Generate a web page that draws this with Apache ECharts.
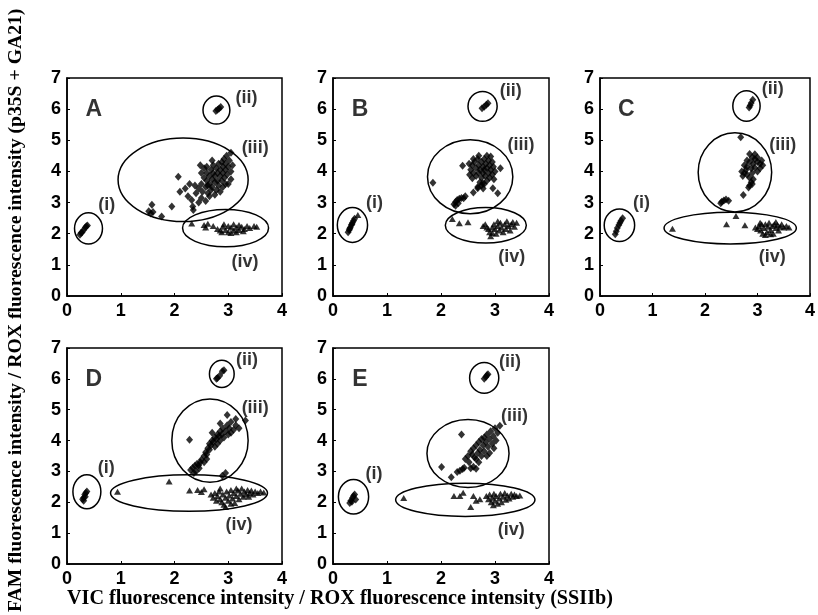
<!DOCTYPE html>
<html><head><meta charset="utf-8">
<script src="https://cdn.jsdelivr.net/npm/echarts@6/dist/echarts.min.js"></script>
<style>html,body{margin:0;padding:0;background:#fff}#c{width:818px;height:615px}</style>
</head><body><div id="c"></div>
<script>
var xTicks = [0, 1, 2, 3, 4];
var yTicks = [0, 1, 2, 3, 4, 5, 6, 7];
var panelNames = ['A', 'B', 'C', 'D', 'E'];
var clusterNames = ['(i)', '(ii)', '(iii)', '(iv)'];

// ---- Panel A ----
var A_i = [[0.24,1.97],[0.26,2.02],[0.28,2.05],[0.31,2.12],[0.34,2.2],[0.36,2.24],[0.38,2.26]];
var A_ii = [[2.77,5.94],[2.8,5.98],[2.83,6.02],[2.86,6.07]];
var A_iii = [[1.52,2.72],[1.56,2.65],[1.6,2.7],[1.58,2.93],[1.76,2.55],[1.95,2.87],[2.07,3.83],[2.1,3.35],[2.2,3.45],[2.25,3.2],[2.32,3.08],[2.34,2.87],[2.35,2.76],[2.28,3.6],[2.4,3.3],[2.38,3.55],[2.45,3.0],[2.5,3.15],
 [2.45,3.45],[2.5,3.6],[2.52,3.35],[2.55,3.8],[2.58,3.5],[2.6,3.7],[2.6,3.95],[2.62,3.3],[2.65,3.6],[2.65,3.85],[2.68,4.05],[2.7,3.5],[2.7,3.75],[2.72,3.95],[2.72,4.2],[2.75,3.65],[2.75,3.85],[2.78,4.1],[2.78,3.4],[2.8,3.7],[2.8,3.95],[2.82,4.25],[2.82,3.55],[2.85,3.85],[2.85,4.05],[2.88,4.3],[2.88,3.7],[2.9,3.95],[2.9,4.15],[2.92,4.4],[2.93,3.8],[2.95,4.05],[2.95,4.25],[2.97,4.5],[2.98,3.9],[3.0,4.15],[3.02,4.35],[3.05,4.6],[3.05,4.0],[2.6,4.15],[2.55,4.1],[2.5,3.95],[2.48,4.2],[2.7,4.35],[2.85,3.35],[2.9,3.5],[3.0,3.6],[3.05,3.75],[2.65,3.2],[2.58,3.05],[2.75,3.25],[3.08,4.2],[2.95,3.6],[2.68,3.4],[2.62,3.55]];
var A_iv = [[2.32,2.33],[2.55,2.28],[2.58,2.2],[2.62,2.32],[2.72,2.25],[2.8,2.15],[2.85,2.1],[2.9,2.22],[2.95,2.12],[3.0,2.25],[3.0,2.05],[3.05,2.2],[3.1,2.1],[3.1,2.3],[3.15,2.2],[3.2,2.12],[3.2,2.28],[3.25,2.22],[3.3,2.15],[3.35,2.25],[3.4,2.18],[3.48,2.25],[3.53,2.22],[2.88,2.05],[3.05,2.02],[2.92,2.3],[3.15,2.05],[3.28,2.08]];
var A_ellipses = [[0.40,2.17,0.26,0.50],[2.78,5.97,0.25,0.45],[2.16,3.73,1.21,1.34],[2.95,2.18,0.80,0.60]];
var A_labels = [[0.74,2.92],[3.34,6.35],[3.5,4.74],[3.31,1.1]];

// ---- Panel B ----
var B_i = [[0.28,2.05],[0.3,2.12],[0.32,2.2],[0.34,2.28],[0.36,2.35],[0.38,2.42],[0.4,2.48],[0.31,2.16],[0.35,2.3]];
var B_ii = [[2.76,6.03],[2.8,6.08],[2.84,6.14],[2.87,6.19]];
var B_iii = [[2.55,4.05],[2.58,4.2],[2.6,3.95],[2.62,4.3],[2.65,4.1],[2.65,3.85],[2.68,4.4],[2.7,4.2],[2.7,3.95],[2.72,4.05],[2.75,4.3],[2.75,3.8],[2.78,4.15],[2.78,3.95],[2.8,4.4],[2.8,4.05],[2.82,3.85],[2.83,4.25],[2.85,4.1],[2.85,3.7],[2.88,4.35],[2.88,3.95],[2.9,4.2],[2.9,3.8],[2.92,4.05],[2.95,4.3],[2.95,3.9],[2.97,4.15],[3.0,4.0],[2.98,3.75],[2.72,3.65],[2.75,3.55],[2.78,3.45],[2.8,3.6],[2.68,3.5],[2.85,4.5],[2.92,4.48],[2.6,4.4],[2.52,4.25],[2.58,3.78],[2.7,4.5],
 [1.85,3.64],[2.4,4.18],[2.53,3.89],[2.6,3.32],[3.1,4.1],[2.96,3.46],[3.05,3.3],[2.68,3.46],[2.77,3.62],
 [2.24,2.95],[2.27,3.02],[2.3,3.08],[2.34,3.12],[2.38,3.15],[2.42,3.14],[2.45,3.2],[2.27,2.9],[2.32,2.98]];
var B_iv = [[0.46,2.6],[2.21,2.47],[2.34,2.34],[2.5,2.37],[2.78,2.25],[2.82,2.3],[2.85,2.2],[2.88,2.15],[2.9,2.05],[2.92,1.92],[2.95,2.2],[2.98,2.3],[3.0,2.15],[3.02,2.0],[3.05,2.25],[3.08,2.1],[3.1,2.35],[3.12,2.2],[3.15,2.05],[3.18,2.3],[3.2,2.15],[3.22,2.4],[3.25,2.25],[3.28,2.1],[3.3,2.3],[3.33,2.38],[3.36,2.22],[3.4,2.35],[2.95,2.02],[3.05,2.4]];
var B_ellipses = [[0.36,2.28,0.28,0.56],[2.77,6.09,0.27,0.48],[2.54,3.83,0.79,1.19],[2.83,2.27,0.75,0.57]];
var B_labels = [[0.77,3.0],[3.29,6.57],[3.48,4.86],[3.31,1.26]];

// ---- Panel C ----
var C_i = [[0.29,1.98],[0.31,2.08],[0.33,2.18],[0.36,2.28],[0.38,2.35],[0.4,2.42],[0.43,2.5]];
var C_ii = [[2.84,6.05],[2.86,6.12],[2.88,6.2],[2.91,6.3]];
var C_iii = [[2.68,5.1],[2.85,4.56],[2.9,4.45],[2.95,4.4],[3.0,4.45],[2.8,4.35],[2.85,4.3],[2.92,4.25],[3.0,4.3],[3.05,4.25],[3.1,4.2],[2.75,4.2],[2.8,4.15],[2.88,4.1],[2.95,4.12],[3.05,4.1],[2.7,4.0],[2.75,3.95],[2.8,3.9],[2.9,3.95],[3.0,4.0],[2.72,3.85],[2.85,3.8],[2.92,3.75],[2.88,3.65],[2.85,3.55],[2.9,3.6],[2.83,3.48],[2.78,4.05],[3.08,4.35],[2.95,4.55],
 [2.73,3.24],[2.32,3.03],[2.36,3.07],[2.4,3.1],[2.45,3.06],[2.3,2.98]];
var C_iv = [[1.38,2.16],[2.41,2.3],[2.59,2.57],[2.76,2.27],[2.96,2.2],[3.0,2.15],[3.03,2.25],[3.06,2.1],[3.08,2.3],[3.1,2.0],[3.12,2.18],[3.15,2.3],[3.18,2.05],[3.2,2.22],[3.22,2.35],[3.25,2.12],[3.28,2.25],[3.3,2.0],[3.32,2.3],[3.35,2.18],[3.38,2.28],[3.4,2.1],[3.43,2.22],[3.46,2.3],[3.5,2.2],[3.55,2.25],[3.6,2.2],[3.15,1.96],[3.25,1.98],[3.05,2.35],[3.35,2.38]];
var C_ellipses = [[0.37,2.27,0.29,0.52],[2.79,6.10,0.26,0.49],[2.57,3.97,0.70,1.27],[2.48,2.18,1.26,0.51]];
var C_labels = [[0.79,2.97],[3.29,6.64],[3.48,4.86],[3.28,1.24]];

// ---- Panel D ----
var D_i = [[0.29,2.1],[0.31,2.15],[0.33,2.25],[0.35,2.3],[0.37,2.35],[0.31,2.05],[0.34,2.18]];
var D_ii = [[2.8,6.03],[2.84,6.1],[2.89,6.25],[2.92,6.28],[2.78,6.0]];
var D_iii = [[2.3,3.05],[2.34,3.12],[2.38,3.18],[2.42,3.25],[2.45,3.2],[2.48,3.3],[2.5,3.38],[2.46,3.1],[2.4,3.0],[2.36,2.95],[2.55,3.5],[2.58,3.62],[2.6,3.55],[2.62,3.75],[2.65,3.7],[2.65,3.9],[2.68,3.85],[2.7,4.0],[2.72,3.95],[2.75,4.1],[2.75,3.8],[2.78,4.05],[2.8,4.2],[2.8,3.9],[2.83,4.15],[2.85,4.3],[2.85,4.0],[2.88,4.2],[2.9,4.4],[2.92,4.1],[2.95,4.3],[2.98,4.5],[3.0,4.2],[3.02,4.4],[3.05,4.25],[3.1,4.35],[3.14,4.5],[2.98,4.83],[3.14,4.7],[3.32,4.65],[2.85,4.55],[2.28,4.03],[2.6,3.4],[2.55,3.3],[3.05,4.6],[3.2,4.4],[2.7,4.25],[2.89,2.86],[2.95,2.95]];
var D_iv = [[0.94,2.34],[1.9,2.67],[2.28,2.38],[2.43,2.4],[2.5,2.33],[2.55,2.42],[2.68,2.25],[2.72,2.15],[2.75,2.3],[2.78,2.05],[2.8,2.2],[2.83,2.35],[2.85,2.1],[2.88,2.0],[2.9,2.25],[2.92,1.92],[2.95,2.15],[2.97,2.35],[3.0,2.05],[3.02,2.22],[3.05,2.4],[3.08,2.12],[3.1,2.3],[3.12,1.98],[3.15,2.2],[3.18,2.38],[3.2,2.1],[3.23,2.28],[3.25,2.45],[3.28,2.18],[3.3,2.35],[3.33,2.25],[3.36,2.4],[3.4,2.3],[3.43,2.38],[3.46,2.25],[3.5,2.35],[3.55,2.3],[3.6,2.35],[3.66,2.32],[2.95,1.85],[3.05,1.95],[2.85,2.45],[3.15,2.45],[3.38,2.18]];
var D_ellipses = [[0.37,2.34,0.26,0.55],[2.88,6.16,0.23,0.44],[2.66,4.0,0.71,1.35],[2.27,2.30,1.46,0.59]];
var D_labels = [[0.73,3.11],[3.35,6.6],[3.5,5.07],[3.2,1.25]];

// ---- Panel E ----
var E_i = [[0.31,1.98],[0.33,2.05],[0.36,2.14],[0.38,2.2],[0.42,2.09],[0.4,2.25],[0.35,2.02]];
var E_ii = [[2.8,6.0],[2.83,6.06],[2.85,6.12],[2.87,6.15]];
var E_iii = [[2.38,4.2],[2.01,3.14],[2.19,2.81],[2.65,3.09],[2.3,2.98],[2.35,3.02],[2.4,3.08],[2.43,3.12],[2.55,3.1],[2.6,3.15],
 [2.45,3.4],[2.5,3.5],[2.52,3.3],[2.55,3.65],[2.58,3.55],[2.6,3.75],[2.62,3.45],[2.65,3.85],[2.68,3.6],[2.7,3.95],[2.72,3.7],[2.75,4.05],[2.75,3.5],[2.78,3.85],[2.8,4.1],[2.8,3.65],[2.83,3.95],[2.85,4.2],[2.87,3.8],[2.9,4.05],[2.92,4.3],[2.95,3.9],[2.97,4.15],[3.0,4.4],[3.02,4.0],[3.05,4.25],[3.09,4.48],[2.9,3.6],[2.85,3.5],[2.7,3.3],[2.65,3.4],[2.98,3.75]];
var E_iv = [[1.31,2.14],[2.24,2.2],[2.41,2.31],[2.35,2.2],[2.55,1.85],[2.72,2.1],[2.6,2.2],[2.65,2.05],[2.84,2.2],[2.88,2.1],[2.9,2.25],[2.93,2.0],[2.95,2.15],[2.98,2.28],[3.0,2.05],[3.02,2.2],[3.05,1.95],[3.08,2.12],[3.1,2.28],[3.12,2.0],[3.15,2.18],[3.18,2.3],[3.2,2.08],[3.23,2.22],[3.26,2.12],[3.3,2.28],[3.33,2.18],[3.36,2.25],[3.4,2.2],[3.46,2.22],[2.97,1.9]];
var E_ellipses = [[0.38,2.18,0.28,0.56],[2.80,6.03,0.27,0.50],[2.50,3.58,0.76,1.10],[2.45,2.08,1.29,0.54]];
var E_labels = [[0.76,2.92],[3.28,6.53],[3.36,4.81],[3.30,1.09]];

var letterPos = [[0.5,5.97],[0.5,5.97],[0.5,5.97],[0.5,5.97],[0.5,5.97]];

var panels = [
  {dia: [A_i, A_ii, A_iii], tri: A_iv, ell: A_ellipses, lab: A_labels},
  {dia: [B_i, B_ii, B_iii], tri: B_iv, ell: B_ellipses, lab: B_labels},
  {dia: [C_i, C_ii, C_iii], tri: C_iv, ell: C_ellipses, lab: C_labels},
  {dia: [D_i, D_ii, D_iii], tri: D_iv, ell: D_ellipses, lab: D_labels},
  {dia: [E_i, E_ii, E_iii], tri: E_iv, ell: E_ellipses, lab: E_labels}
];

var grids = [
  {left: 67, top: 78, width: 215, height: 218},
  {left: 333, top: 78, width: 216, height: 218},
  {left: 600, top: 78, width: 216, height: 218},
  {left: 67, top: 348, width: 215, height: 216},
  {left: 333, top: 348, width: 216, height: 216}
];

var tickFont = {fontFamily: 'Liberation Sans', fontWeight: 'bold', fontSize: 18, color: '#000'};
var xAxes = [], yAxes = [], series = [];
grids.forEach(function (g, k) {
  g.show = true; g.borderColor = '#000'; g.borderWidth = 1.5; g.backgroundColor = 'transparent';
  xAxes.push({gridIndex: k, type: 'value', min: xTicks[0], max: xTicks[xTicks.length-1], interval: 1,
    axisLine: {show: true, lineStyle: {color: '#000', width: 1.5}},
    axisTick: {show: true, inside: true, length: 3, lineStyle: {color: '#000'}},
    axisLabel: Object.assign({margin: 6}, tickFont), splitLine: {show: false}});
  yAxes.push({gridIndex: k, type: 'value', min: yTicks[0], max: yTicks[yTicks.length-1], interval: 1,
    axisLine: {show: true, lineStyle: {color: '#000', width: 1.5}},
    axisTick: {show: true, inside: true, length: 3, lineStyle: {color: '#000'}},
    axisLabel: Object.assign({margin: 6}, tickFont), splitLine: {show: false}});
  var p = panels[k];
  var dia = [].concat(p.dia[0], p.dia[1], p.dia[2]);
  series.push({type: 'scatter', xAxisIndex: k, yAxisIndex: k, data: dia, symbol: 'diamond', symbolSize: [7, 8],
    itemStyle: {color: '#000'}, silent: true, z: 3});
  series.push({type: 'scatter', xAxisIndex: k, yAxisIndex: k, data: p.tri, symbol: 'triangle', symbolSize: [7, 6],
    itemStyle: {color: '#000'}, silent: true, z: 3});
  series.push({type: 'custom', xAxisIndex: k, yAxisIndex: k, data: p.ell, silent: true, z: 4,
    encode: {x: 0, y: 1},
    renderItem: function (params, api) {
      var c = api.coord([api.value(0), api.value(1)]);
      var s = api.size([api.value(2), api.value(3)]);
      return {type: 'ellipse', shape: {cx: c[0], cy: c[1], rx: s[0], ry: s[1]},
        style: {fill: 'none', stroke: '#000', lineWidth: 1.5}};
    }});
  var labData = p.lab.map(function (v, j) { return {name: clusterNames[j], value: v}; });
  labData.push({name: panelNames[k], value: letterPos[k], label: {fontSize: 23}});
  series.push({type: 'scatter', xAxisIndex: k, yAxisIndex: k, data: labData, symbolSize: 0, silent: true, z: 5,
    label: {show: true, position: 'inside', formatter: '{b}', fontFamily: 'Liberation Sans', fontWeight: 'bold', fontSize: 18, color: '#000'}});
});

var chart = echarts.init(document.getElementById('c'), null, {renderer: 'canvas'});
chart.setOption({
  animation: false,
  backgroundColor: '#fff',
  grid: grids, xAxis: xAxes, yAxis: yAxes, series: series,
  graphic: [
    {type: 'text', left: 67, top: 589, style: {text: 'VIC fluorescence intensity / ROX fluorescence intensity (SSIIb)',
      font: 'bold 20.2px "Liberation Serif"', fill: '#000'}},
    {type: 'text', x: 6, y: 612, rotation: Math.PI / 2, style: {text: 'FAM fluorescence intensity / ROX fluorescence intensity (p35S + GA21)',
      font: 'bold 19.7px "Liberation Serif"', fill: '#000', textAlign: 'left', textVerticalAlign: 'top'}}
  ]
});
</script></body></html>
